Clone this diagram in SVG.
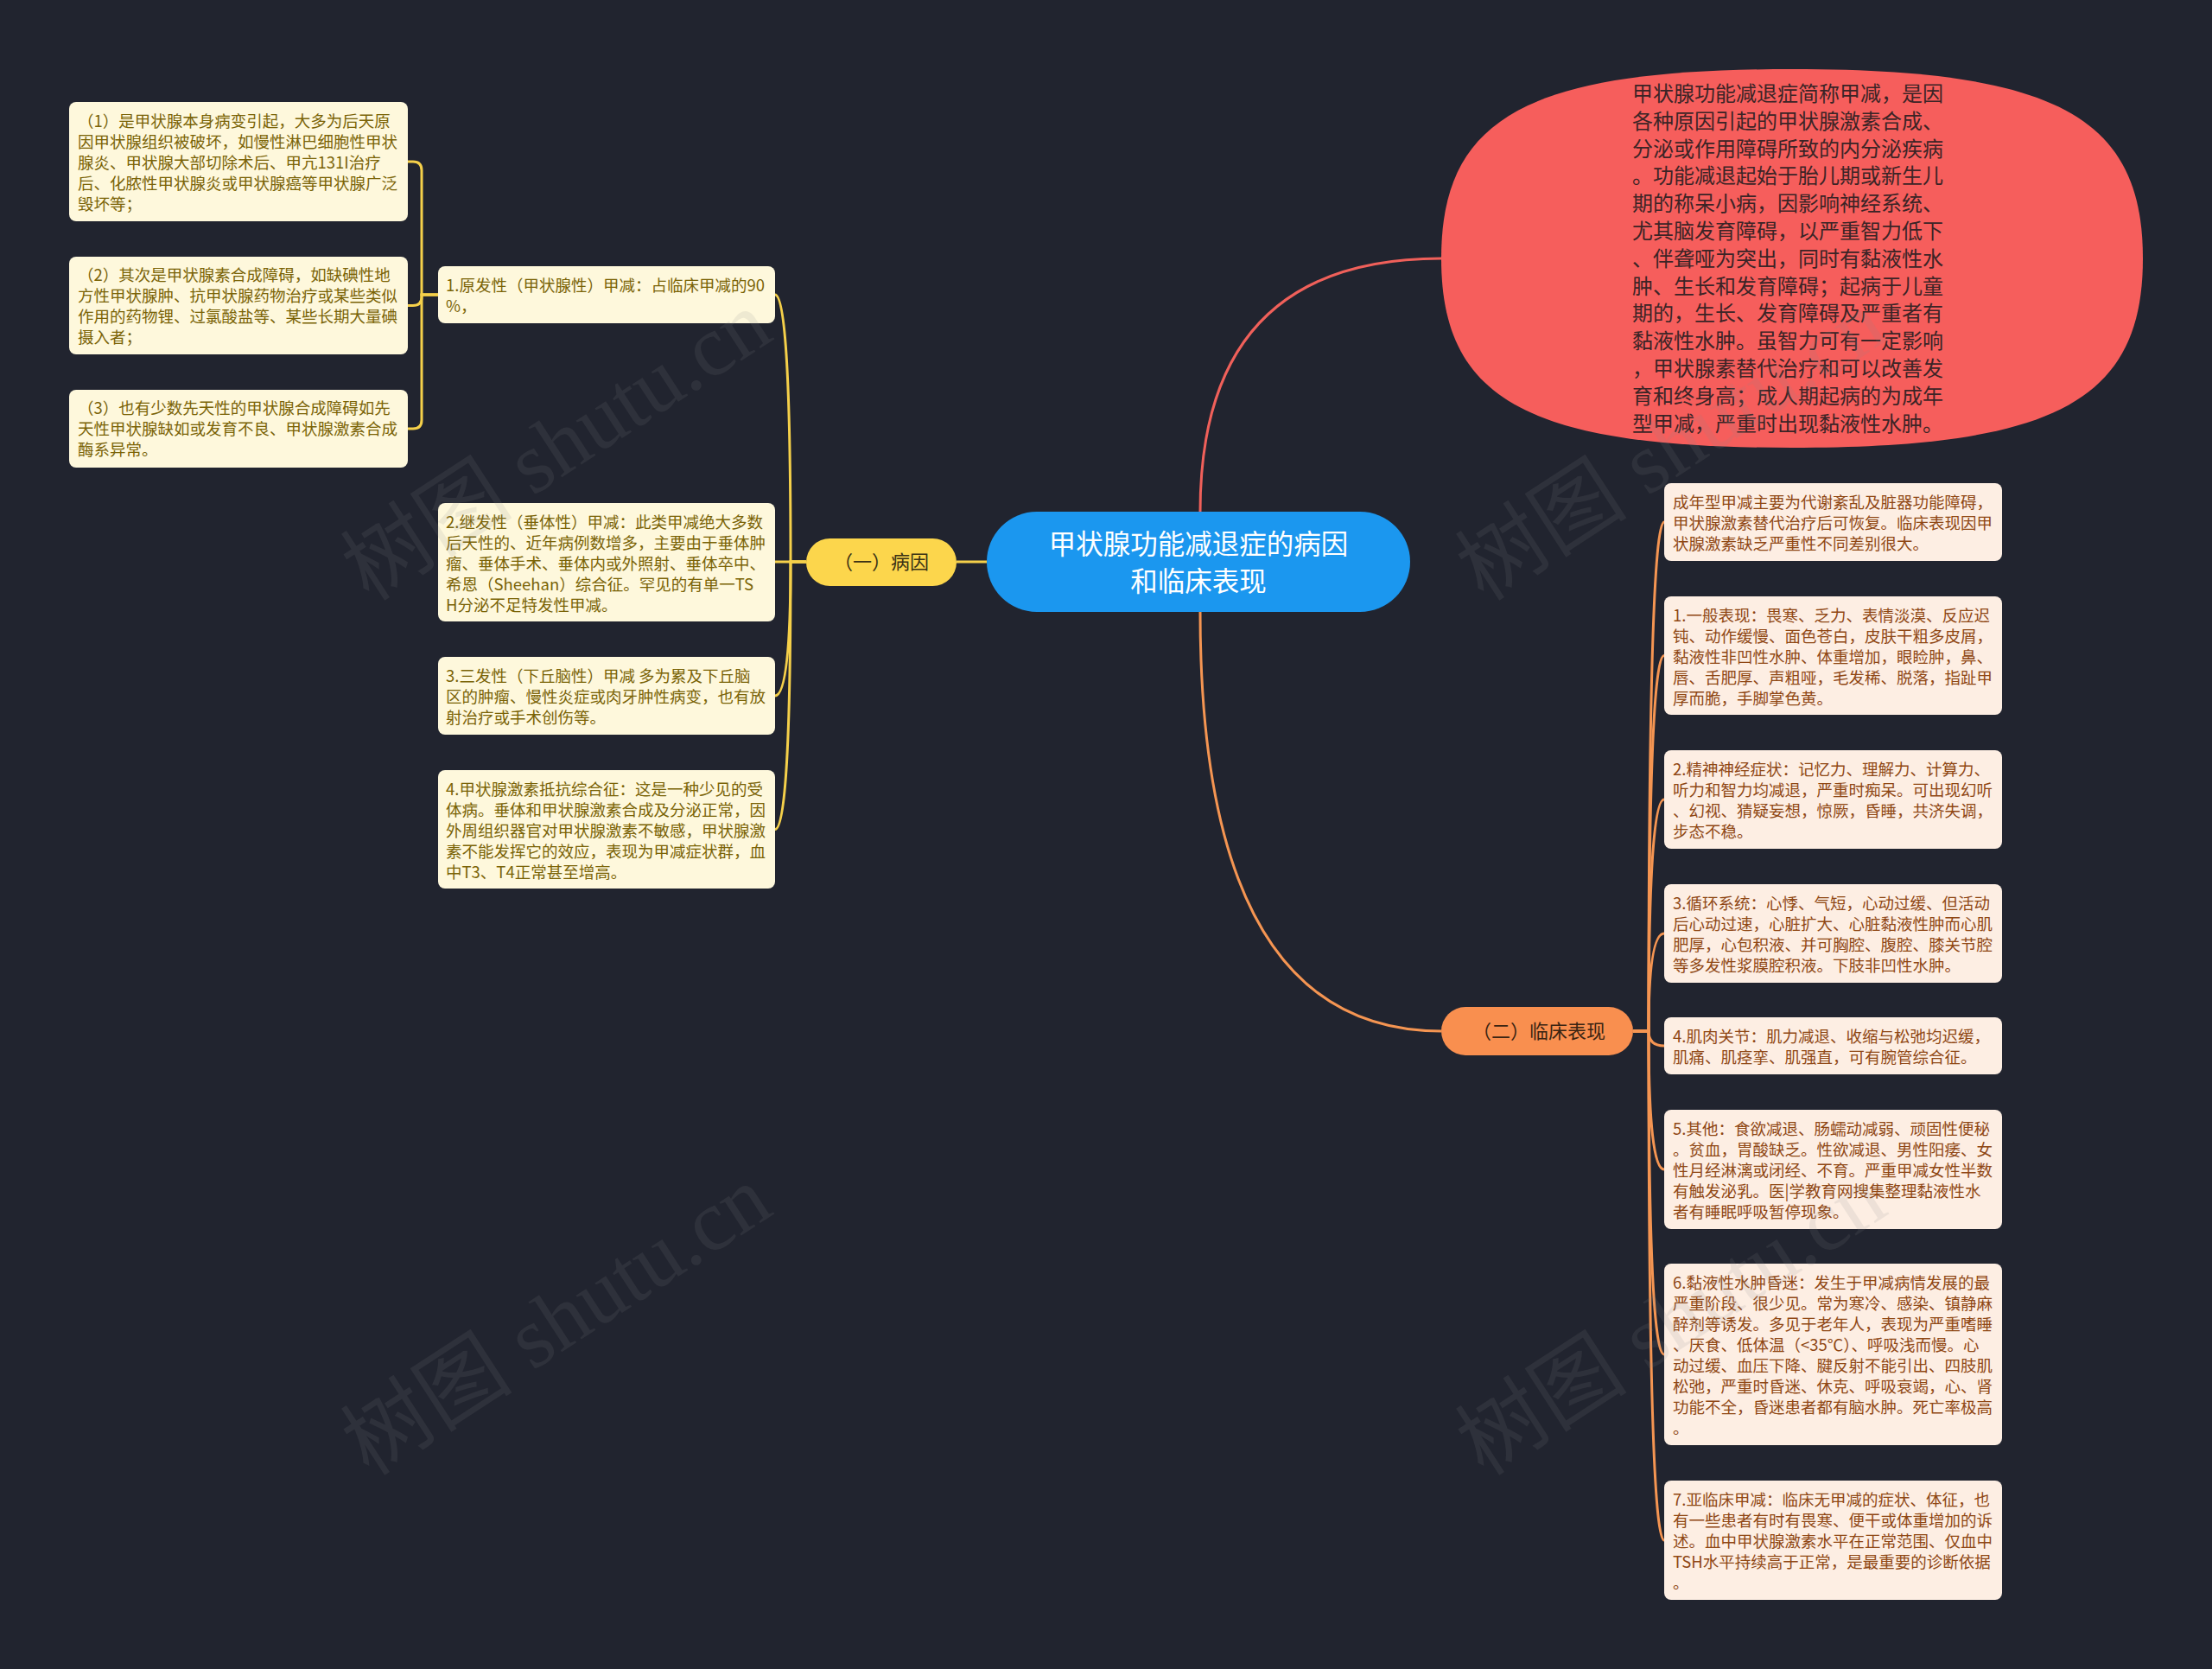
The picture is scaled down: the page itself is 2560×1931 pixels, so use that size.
<svg xmlns="http://www.w3.org/2000/svg" width="2560" height="1931" viewBox="0 0 2560 1931">
<style>
.t{font-family:"Noto Sans CJK SC","Noto Sans",sans-serif}
.lf{fill:#fef8dc}
.lt{fill:#7a6306;font-size:18.5px}
.rf{fill:#fdeee3}
.rt{fill:#8f4714;font-size:18.5px}
.cy{fill:none;stroke:#f5d04a;stroke-width:3}
.co{fill:none;stroke:#f59552;stroke-width:3}
.cr{fill:none;stroke:#f0605a;stroke-width:3}
.wm{font-family:"Liberation Serif","Noto Sans CJK SC",serif;font-size:100px;fill:#8a8a8a;opacity:.13}
</style>
<rect x="0" y="0" width="2560" height="1931" fill="#21242f"/>
<g id="connectors">
<path class="cr" d="M1389 592 Q1389 299 1668 299"/>
<path class="co" d="M1389 708 Q1389 1193 1668 1193"/>
<path class="cy" d="M1142 650 H1107"/>
<path class="cy" d="M933 650 H915 Q915 341 897 341"/>
<path class="cy" d="M933 650 H897"/>
<path class="cy" d="M933 650 H915 Q915 805 897 805"/>
<path class="cy" d="M933 650 H915 Q915 959.5 897 959.5"/>
<path class="cy" d="M507 341 H488 V197 Q488 187 478 187 H472"/>
<path class="cy" d="M507 341 H488 V343.5 Q488 353.5 478 353.5 H472"/>
<path class="cy" d="M507 341 H488 V486 Q488 496 478 496 H472"/>
<path class="co" d="M1890 1193 H1908 Q1908 604 1926 604"/>
<path class="co" d="M1890 1193 H1908 Q1908 758.5 1926 758.5"/>
<path class="co" d="M1890 1193 H1908 Q1908 925 1926 925"/>
<path class="co" d="M1890 1193 H1908 Q1908 1080 1926 1080"/>
<path class="co" d="M1890 1193 H1908 Q1908 1210 1926 1210"/>
<path class="co" d="M1890 1193 H1908 Q1908 1353 1926 1353"/>
<path class="co" d="M1890 1193 H1908 Q1908 1567 1926 1567"/>
<path class="co" d="M1890 1193 H1908 Q1908 1782 1926 1782"/>
</g>
<g id="center">
<rect x="1142" y="592" width="490" height="116" rx="58" fill="#1b97ef"/>
<text class="t" x="1387" y="641" font-size="31.5" fill="#ffffff" text-anchor="middle">甲状腺功能减退症的病因<tspan x="1387" dy="43">和临床表现</tspan></text>
</g>
<g id="intro">
<path d="M1668 299 C1668 134.75 1769.5 80 2074 80 C2378.5 80 2480 134.75 2480 299 C2480 463.25 2378.5 518 2074 518 C1769.5 518 1668 463.25 1668 299 Z" fill="#f65e5c"/>
<text class="t" x="1889" y="117" font-size="24" fill="#3b2426">甲状腺功能减退症简称甲减，是因<tspan x="1889" dy="31.8">各种原因引起的甲状腺激素合成、</tspan><tspan x="1889" dy="31.8">分泌或作用障碍所致的内分泌疾病</tspan><tspan x="1889" dy="31.8">。功能减退起始于胎儿期或新生儿</tspan><tspan x="1889" dy="31.8">期的称呆小病，因影响神经系统、</tspan><tspan x="1889" dy="31.8">尤其脑发育障碍，以严重智力低下</tspan><tspan x="1889" dy="31.8">、伴聋哑为突出，同时有黏液性水</tspan><tspan x="1889" dy="31.8">肿、生长和发育障碍；起病于儿童</tspan><tspan x="1889" dy="31.8">期的，生长、发育障碍及严重者有</tspan><tspan x="1889" dy="31.8">黏液性水肿。虽智力可有一定影响</tspan><tspan x="1889" dy="31.8">，甲状腺素替代治疗和可以改善发</tspan><tspan x="1889" dy="31.8">育和终身高；成人期起病的为成年</tspan><tspan x="1889" dy="31.8">型甲减，严重时出现黏液性水肿。</tspan></text>
</g>
<g id="cause">
<rect x="933" y="623" width="174" height="55" rx="27.5" fill="#fcd64c"/>
<text class="t" x="1020" y="658" font-size="22" fill="#3a3114" text-anchor="middle">（一）病因</text>
</g>
<g id="cause-1">
<rect class="lf" x="507" y="308" width="390" height="66" rx="8"/>
<text class="t lt" x="516" y="336.5">1.原发性（甲状腺性）甲减：占临床甲减的90<tspan x="516" dy="24">%，</tspan></text>
</g>
<g id="cause-1-1">
<rect class="lf" x="80" y="118" width="392" height="138" rx="8"/>
<text class="t lt" x="90" y="146.5">（1）是甲状腺本身病变引起，大多为后天原<tspan x="90" dy="24">因甲状腺组织被破坏，如慢性淋巴细胞性甲状</tspan><tspan x="90" dy="24">腺炎、甲状腺大部切除术后、甲亢131I治疗</tspan><tspan x="90" dy="24">后、化脓性甲状腺炎或甲状腺癌等甲状腺广泛</tspan><tspan x="90" dy="24">毁坏等；</tspan></text>
</g>
<g id="cause-1-2">
<rect class="lf" x="80" y="297" width="392" height="113" rx="8"/>
<text class="t lt" x="90" y="325">（2）其次是甲状腺素合成障碍，如缺碘性地<tspan x="90" dy="24">方性甲状腺肿、抗甲状腺药物治疗或某些类似</tspan><tspan x="90" dy="24">作用的药物锂、过氯酸盐等、某些长期大量碘</tspan><tspan x="90" dy="24">摄入者；</tspan></text>
</g>
<g id="cause-1-3">
<rect class="lf" x="80" y="451" width="392" height="90" rx="8"/>
<text class="t lt" x="90" y="479">（3）也有少数先天性的甲状腺合成障碍如先<tspan x="90" dy="24">天性甲状腺缺如或发育不良、甲状腺激素合成</tspan><tspan x="90" dy="24">酶系异常。</tspan></text>
</g>
<g id="cause-2">
<rect class="lf" x="507" y="582" width="390" height="137" rx="8"/>
<text class="t lt" x="516" y="610.5">2.继发性（垂体性）甲减：此类甲减绝大多数<tspan x="516" dy="24">后天性的、近年病例数增多，主要由于垂体肿</tspan><tspan x="516" dy="24">瘤、垂体手术、垂体内或外照射、垂体卒中、</tspan><tspan x="516" dy="24">希恩（Sheehan）综合征。罕见的有单一TS</tspan><tspan x="516" dy="24">H分泌不足特发性甲减。</tspan></text>
</g>
<g id="cause-3">
<rect class="lf" x="507" y="760" width="390" height="90" rx="8"/>
<text class="t lt" x="516" y="788.5">3.三发性（下丘脑性）甲减 多为累及下丘脑<tspan x="516" dy="24">区的肿瘤、慢性炎症或肉牙肿性病变，也有放</tspan><tspan x="516" dy="24">射治疗或手术创伤等。</tspan></text>
</g>
<g id="cause-4">
<rect class="lf" x="507" y="891" width="390" height="137" rx="8"/>
<text class="t lt" x="516" y="919.5">4.甲状腺激素抵抗综合征：这是一种少见的受<tspan x="516" dy="24">体病。垂体和甲状腺激素合成及分泌正常，因</tspan><tspan x="516" dy="24">外周组织器官对甲状腺激素不敏感，甲状腺激</tspan><tspan x="516" dy="24">素不能发挥它的效应，表现为甲减症状群，血</tspan><tspan x="516" dy="24">中T3、T4正常甚至增高。</tspan></text>
</g>
<g id="clinical">
<rect x="1668" y="1165" width="222" height="56" rx="28" fill="#f98f4f"/>
<text class="t" x="1781" y="1201" font-size="22" fill="#3a2412" text-anchor="middle">（二）临床表现</text>
</g>
<g id="clinical-0">
<rect class="rf" x="1926" y="559" width="391" height="90" rx="8"/>
<text class="t rt" x="1936" y="587.5">成年型甲减主要为代谢紊乱及脏器功能障碍，<tspan x="1936" dy="24">甲状腺激素替代治疗后可恢复。临床表现因甲</tspan><tspan x="1936" dy="24">状腺激素缺乏严重性不同差别很大。</tspan></text>
</g>
<g id="clinical-1">
<rect class="rf" x="1926" y="690" width="391" height="137" rx="8"/>
<text class="t rt" x="1936" y="718.5">1.一般表现：畏寒、乏力、表情淡漠、反应迟<tspan x="1936" dy="24">钝、动作缓慢、面色苍白，皮肤干粗多皮屑，</tspan><tspan x="1936" dy="24">黏液性非凹性水肿、体重增加，眼睑肿，鼻、</tspan><tspan x="1936" dy="24">唇、舌肥厚、声粗哑，毛发稀、脱落，指趾甲</tspan><tspan x="1936" dy="24">厚而脆，手脚掌色黄。</tspan></text>
</g>
<g id="clinical-2">
<rect class="rf" x="1926" y="868" width="391" height="114" rx="8"/>
<text class="t rt" x="1936" y="896.5">2.精神神经症状：记忆力、理解力、计算力、<tspan x="1936" dy="24">听力和智力均减退，严重时痴呆。可出现幻听</tspan><tspan x="1936" dy="24">、幻视、猜疑妄想，惊厥，昏睡，共济失调，</tspan><tspan x="1936" dy="24">步态不稳。</tspan></text>
</g>
<g id="clinical-3">
<rect class="rf" x="1926" y="1023" width="391" height="114" rx="8"/>
<text class="t rt" x="1936" y="1051.5">3.循环系统：心悸、气短，心动过缓、但活动<tspan x="1936" dy="24">后心动过速，心脏扩大、心脏黏液性肿而心肌</tspan><tspan x="1936" dy="24">肥厚，心包积液、并可胸腔、腹腔、膝关节腔</tspan><tspan x="1936" dy="24">等多发性浆膜腔积液。下肢非凹性水肿。</tspan></text>
</g>
<g id="clinical-4">
<rect class="rf" x="1926" y="1177" width="391" height="66" rx="8"/>
<text class="t rt" x="1936" y="1205.5">4.肌肉关节：肌力减退、收缩与松弛均迟缓，<tspan x="1936" dy="24">肌痛、肌痉挛、肌强直，可有腕管综合征。</tspan></text>
</g>
<g id="clinical-5">
<rect class="rf" x="1926" y="1284" width="391" height="138" rx="8"/>
<text class="t rt" x="1936" y="1312.5">5.其他：食欲减退、肠蠕动减弱、顽固性便秘<tspan x="1936" dy="24">。贫血，胃酸缺乏。性欲减退、男性阳痿、女</tspan><tspan x="1936" dy="24">性月经淋漓或闭经、不育。严重甲减女性半数</tspan><tspan x="1936" dy="24">有触发泌乳。医|学教育网搜集整理黏液性水</tspan><tspan x="1936" dy="24">者有睡眠呼吸暂停现象。</tspan></text>
</g>
<g id="clinical-6">
<rect class="rf" x="1926" y="1462" width="391" height="210" rx="8"/>
<text class="t rt" x="1936" y="1490.5">6.黏液性水肿昏迷：发生于甲减病情发展的最<tspan x="1936" dy="24">严重阶段、很少见。常为寒冷、感染、镇静麻</tspan><tspan x="1936" dy="24">醉剂等诱发。多见于老年人，表现为严重嗜睡</tspan><tspan x="1936" dy="24">、厌食、低体温（&lt;35℃）、呼吸浅而慢。心</tspan><tspan x="1936" dy="24">动过缓、血压下降、腱反射不能引出、四肢肌</tspan><tspan x="1936" dy="24">松弛，严重时昏迷、休克、呼吸衰竭，心、肾</tspan><tspan x="1936" dy="24">功能不全，昏迷患者都有脑水肿。死亡率极高</tspan><tspan x="1936" dy="24">。</tspan></text>
</g>
<g id="clinical-7">
<rect class="rf" x="1926" y="1713" width="391" height="138" rx="8"/>
<text class="t rt" x="1936" y="1741.5">7.亚临床甲减：临床无甲减的症状、体征，也<tspan x="1936" dy="24">有一些患者有时有畏寒、便干或体重增加的诉</tspan><tspan x="1936" dy="24">述。血中甲状腺激素水平在正常范围、仅血中</tspan><tspan x="1936" dy="24">TSH水平持续高于正常，是最重要的诊断依据</tspan><tspan x="1936" dy="24">。</tspan></text>
</g>
<g id="watermarks">
<text class="wm" transform="translate(650 525) rotate(-33)" text-anchor="middle" dominant-baseline="middle">树图 shutu.cn</text>
<text class="wm" transform="translate(650 1537) rotate(-33)" text-anchor="middle" dominant-baseline="middle">树图 shutu.cn</text>
<text class="wm" transform="translate(1940 525) rotate(-33)" text-anchor="middle" dominant-baseline="middle">树图 shutu.cn</text>
<text class="wm" transform="translate(1940 1537) rotate(-33)" text-anchor="middle" dominant-baseline="middle">树图 shutu.cn</text>
</g>
</svg>
